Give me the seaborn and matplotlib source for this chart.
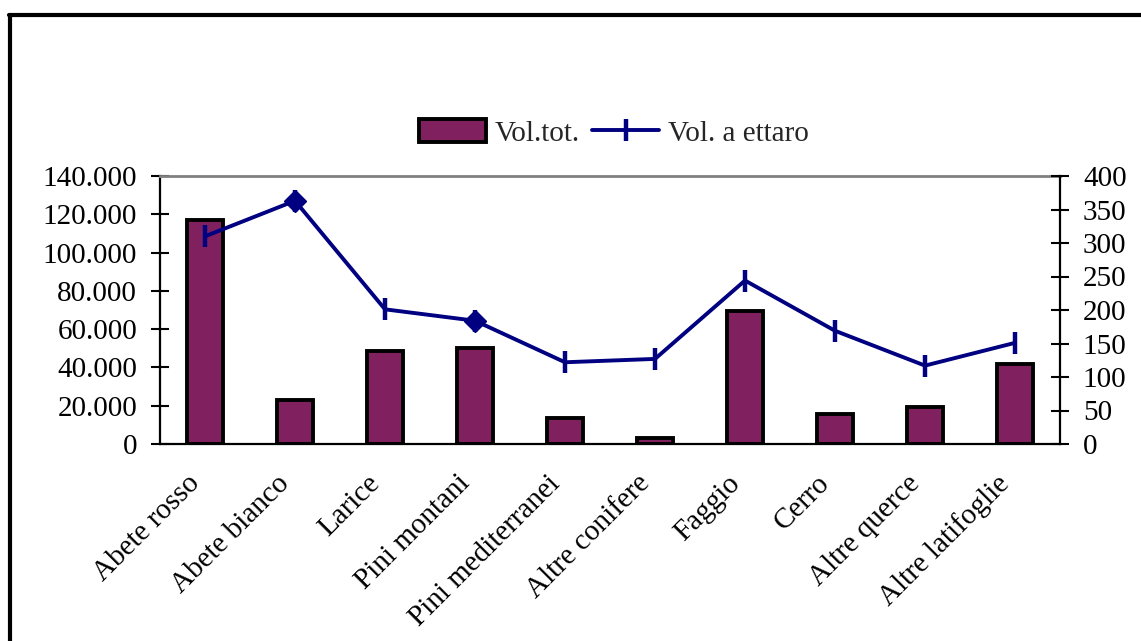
import numpy as np
import pandas as pd
import matplotlib
matplotlib.use("Agg")
import matplotlib.pyplot as plt
import seaborn as sns
from matplotlib.patches import Patch
from matplotlib.lines import Line2D
from matplotlib.ticker import FuncFormatter, FixedLocator, FixedFormatter, NullFormatter, MultipleLocator

# Volume per specie forestale
categories = ["Abete rosso", "Abete bianco", "Larice", "Pini montani", "Pini mediterranei",
              "Altre conifere", "Faggio", "Cerro", "Altre querce", "Altre latifoglie"]
vol_tot = [117000, 23000, 48700, 50000, 13400, 3300, 69600, 15500, 19500, 41600]
vol_ha = [310, 363, 201, 184, 122, 127, 244, 169, 117, 151]
diamond_points = ["Abete bianco", "Pini montani"]
series_labels = ["Vol.tot.", "Vol. a ettaro"]

BAR_COLOR = "#80205F"
LINE_COLOR = "#000080"
FS = 21

sns.set_theme(style="white")
plt.rcParams["font.family"] = ["Liberation Serif", "DejaVu Serif"]

df = pd.DataFrame({"categoria": categories, "vol_tot": vol_tot, "vol_ha": vol_ha})
dd = df[df["categoria"].isin(diamond_points)]

W, H = 1141, 641
fig = plt.figure(figsize=(W / 100, H / 100), dpi=100)
ax = fig.add_axes([160 / W, 1 - 444 / H, 900 / W, 268 / H])

sns.barplot(data=df, x="categoria", y="vol_tot", order=categories, ax=ax,
            color=BAR_COLOR, saturation=1, width=0.41,
            edgecolor="black", linewidth=2.8, errorbar=None)

ax2 = ax.twinx()
sns.pointplot(data=df, x="categoria", y="vol_ha", order=categories, ax=ax2,
              color=LINE_COLOR, markers="|", linestyles="-", errorbar=None,
              markersize=16, markeredgewidth=3.2, linewidth=2.8)
sns.pointplot(data=dd, x="categoria", y="vol_ha", order=categories, ax=ax2,
              color=LINE_COLOR, markers="D", linestyles="none", errorbar=None,
              markersize=11, markeredgewidth=1)

# x axis: ticks between categories, labels at category centres
ax.set_xlim(-0.5, len(categories) - 0.5)
ax.xaxis.set_major_locator(FixedLocator(np.arange(-0.5, len(categories), 1.0)))
ax.xaxis.set_major_formatter(NullFormatter())
ax.xaxis.set_minor_locator(FixedLocator(np.arange(len(categories))))
ax.xaxis.set_minor_formatter(FixedFormatter(categories))
ax.tick_params(axis="x", which="major", direction="inout", length=12.5, width=1.5, color="black")
ax.tick_params(axis="x", which="minor", length=0, pad=19, labelsize=FS, labelrotation=45,
               labelcolor="black")
for lab in ax.get_xticklabels(minor=True):
    lab.set_ha("right")
    lab.set_va("top")

# y axes
ax.set_ylim(0, 140000)
ax.yaxis.set_major_locator(MultipleLocator(20000))
ax.yaxis.set_major_formatter(FuncFormatter(lambda v, p: f"{int(v):,}".replace(",", ".")))
ax.tick_params(axis="y", direction="inout", length=13, width=1.5, pad=10,
               labelsize=FS, color="black", labelcolor="black")
ax2.set_ylim(0, 400)
ax2.yaxis.set_major_locator(MultipleLocator(50))
ax2.tick_params(axis="y", direction="inout", length=13, width=1.5, pad=10,
                labelsize=FS, color="black", labelcolor="black")

for a in (ax, ax2):
    a.set_xlabel("")
    a.set_ylabel("")
    a.grid(False)

for name, sp in ax.spines.items():
    sp.set_linewidth(1.6)
    sp.set_color("black")
ax.spines["top"].set_color("#808080")
ax.spines["top"].set_linewidth(2)
ax.spines["right"].set_visible(False)
for name in ("left", "bottom", "top"):
    ax2.spines[name].set_visible(False)
ax2.spines["right"].set_color("black")
ax2.spines["right"].set_linewidth(1.6)

# legend
handles = [
    Patch(facecolor=BAR_COLOR, edgecolor="black", linewidth=2.8),
    Line2D([], [], color=LINE_COLOR, linewidth=2.8, marker="|", markersize=16, markeredgewidth=3.2),
]
fig.legend(handles, series_labels, loc="center", bbox_to_anchor=(614 / W, 1 - 133 / H),
           ncol=2, frameon=False, fontsize=FS, handlelength=2.3, handleheight=0.8,
           handletextpad=0.3, columnspacing=0.4, borderpad=0)

# outer frame
fig.add_artist(Line2D([10 / W, 10 / W], [0, 1 - 14.5 / H], transform=fig.transFigure,
                      color="black", linewidth=3))
fig.add_artist(Line2D([8.5 / W, 1], [1 - 14.5 / H, 1 - 14.5 / H], transform=fig.transFigure,
                      color="black", linewidth=3))

fig.savefig("out.png", dpi=100, facecolor="white")
